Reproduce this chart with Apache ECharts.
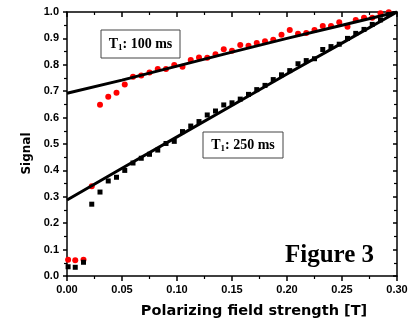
<!DOCTYPE html>
<html>
<head>
<meta charset="utf-8">
<script src="https://cdn.jsdelivr.net/npm/echarts@6/dist/echarts.min.js"></script>
<style>
  html, body { margin: 0; padding: 0; background: #fff; }
  #main { width: 417px; height: 321px; }
</style>
</head>
<body>
<div id="main"></div>
<script>
// polarizing field strength [T] of each measurement
var fieldT = [0.001, 0.0075, 0.015, 0.0225, 0.03, 0.0375, 0.045, 0.0525, 0.06, 0.0675,
  0.075, 0.0825, 0.09, 0.0975, 0.105, 0.1125, 0.12, 0.1275, 0.135, 0.1425,
  0.15, 0.1575, 0.165, 0.1725, 0.18, 0.1875, 0.195, 0.2025, 0.21, 0.2175,
  0.225, 0.2325, 0.24, 0.2475, 0.255, 0.2625, 0.27, 0.2775, 0.285, 0.2925];

// T1 = 100 ms (red dots)
var signal100 = [0.062, 0.060, 0.062, 0.340, 0.649, 0.679, 0.694, 0.725, 0.755, 0.759,
  0.771, 0.784, 0.784, 0.799, 0.793, 0.818, 0.828, 0.827, 0.840, 0.859,
  0.853, 0.875, 0.872, 0.883, 0.889, 0.895, 0.914, 0.932, 0.918, 0.920,
  0.932, 0.947, 0.947, 0.961, 0.944, 0.970, 0.978, 0.978, 0.995, 0.999];

// T1 = 250 ms (black squares)
var signal250 = [0.035, 0.033, 0.052, 0.272, 0.318, 0.360, 0.374, 0.400, 0.428, 0.446,
  0.461, 0.477, 0.502, 0.510, 0.547, 0.568, 0.585, 0.610, 0.625, 0.648,
  0.656, 0.670, 0.688, 0.706, 0.722, 0.744, 0.762, 0.778, 0.804, 0.816,
  0.823, 0.858, 0.869, 0.878, 0.900, 0.919, 0.934, 0.953, 0.970, 0.991];

// fit curves
var fitT = [0, 0.05, 0.10, 0.15, 0.20, 0.25, 0.30];
var fit100 = [0.692, 0.742, 0.795, 0.848, 0.900, 0.950, 1.0];
var fit250 = [0.288, 0.408, 0.527, 0.646, 0.765, 0.882, 1.0];

var xTicks = { min: 0, max: 0.3, interval: 0.05 };
var yTicks = { min: 0, max: 1, interval: 0.1 };

function pairs(xs, ys) {
  return xs.map(function (x, i) { return [x, ys[i]]; });
}

var chart = echarts.init(document.getElementById('main'), null, { renderer: 'canvas' });

var lineStyle = { color: '#000', width: 1.5 };
var labelFont = { color: '#000', fontFamily: 'Liberation Sans', fontWeight: 'bold', fontSize: 11 };

function xAxis(pos, showLabel) {
  return {
    type: 'value', position: pos,
    min: xTicks.min, max: xTicks.max, interval: xTicks.interval,
    axisLine: { show: true, onZero: false, lineStyle: lineStyle },
    axisTick: { show: true, inside: pos === 'top', length: 5, lineStyle: lineStyle },
    minorTick: { show: true, splitNumber: 2, length: 3, lineStyle: { color: '#000', width: 1.2 } },
    splitLine: { show: false },
    axisLabel: Object.assign({
      show: showLabel, margin: 8,
      formatter: function (v) { return v.toFixed(2); }
    }, labelFont)
  };
}

function yAxis(pos, showLabel) {
  return {
    type: 'value', position: pos,
    min: yTicks.min, max: yTicks.max, interval: yTicks.interval,
    axisLine: { show: true, onZero: false, lineStyle: lineStyle },
    axisTick: { show: true, inside: pos === 'right', length: 4, lineStyle: lineStyle },
    minorTick: { show: true, splitNumber: 2, length: 3, lineStyle: { color: '#000', width: 1.2 } },
    splitLine: { show: false },
    axisLabel: Object.assign({
      show: showLabel, margin: 8,
      formatter: function (v) { return v.toFixed(1); }
    }, labelFont)
  };
}

function t1Label(ms, cx, cy) {
  return {
    type: 'text', x: cx, y: cy, z: 11,
    style: {
      text: '{t|T}{s|1}{t|: ' + ms + ' ms}',
      align: 'center', verticalAlign: 'middle',
      rich: {
        t: { fontFamily: 'Liberation Serif', fontWeight: 'bold', fontSize: 14, color: '#111', lineHeight: 16 },
        s: { fontFamily: 'Liberation Serif', fontWeight: 'bold', fontSize: 9, color: '#111', lineHeight: 16, verticalAlign: 'bottom' }
      }
    }
  };
}

var option = {
  backgroundColor: '#fff',
  animation: false,
  grid: { left: 67, right: 20, top: 12, bottom: 45 },
  xAxis: [xAxis('bottom', true), xAxis('top', false)],
  yAxis: [yAxis('left', true), yAxis('right', false)],
  series: [
    {
      name: 'T1 100 ms', type: 'scatter',
      data: pairs(fieldT, signal100),
      symbol: 'circle', symbolSize: 6,
      itemStyle: { color: '#ff0000', opacity: 1 }
    },
    {
      name: 'T1 250 ms', type: 'scatter',
      data: pairs(fieldT, signal250),
      symbol: 'rect', symbolSize: 5,
      itemStyle: { color: '#000', opacity: 1 }
    },
    {
      name: 'fit 100', type: 'line', data: pairs(fitT, fit100),
      showSymbol: false, lineStyle: { color: '#000', width: 3 }
    },
    {
      name: 'fit 250', type: 'line', data: pairs(fitT, fit250),
      showSymbol: false, lineStyle: { color: '#000', width: 3 }
    }
  ],
  graphic: [
    { type: 'rect', shape: { x: 101, y: 30, width: 79, height: 28 },
      style: { fill: '#fff', stroke: '#444', lineWidth: 1 }, z: 10 },
    t1Label('100', 140.5, 44),
    { type: 'rect', shape: { x: 203, y: 132, width: 80, height: 26 },
      style: { fill: '#fff', stroke: '#444', lineWidth: 1 }, z: 10 },
    t1Label('250', 243, 145),
    { type: 'text', x: 285, y: 256, z: 11,
      style: { text: 'Figure 3', fontFamily: 'Liberation Serif', fontWeight: 'bold',
        fontSize: 25, fill: '#000', align: 'left', verticalAlign: 'middle' } },
    { type: 'text', x: 254, y: 311, z: 11,
      style: { text: 'Polarizing field strength [T]', fontFamily: 'DejaVu Sans', fontWeight: 'bold',
        fontSize: 14.5, fill: '#000', align: 'center', verticalAlign: 'middle' } },
    { type: 'text', x: 27, y: 153.5, rotation: Math.PI / 2, z: 11,
      style: { text: 'Signal', fontFamily: 'DejaVu Sans', fontWeight: 'bold',
        fontSize: 12, fill: '#000', align: 'center', verticalAlign: 'middle' } }
  ]
};

chart.setOption(option);
</script>
</body>
</html>
